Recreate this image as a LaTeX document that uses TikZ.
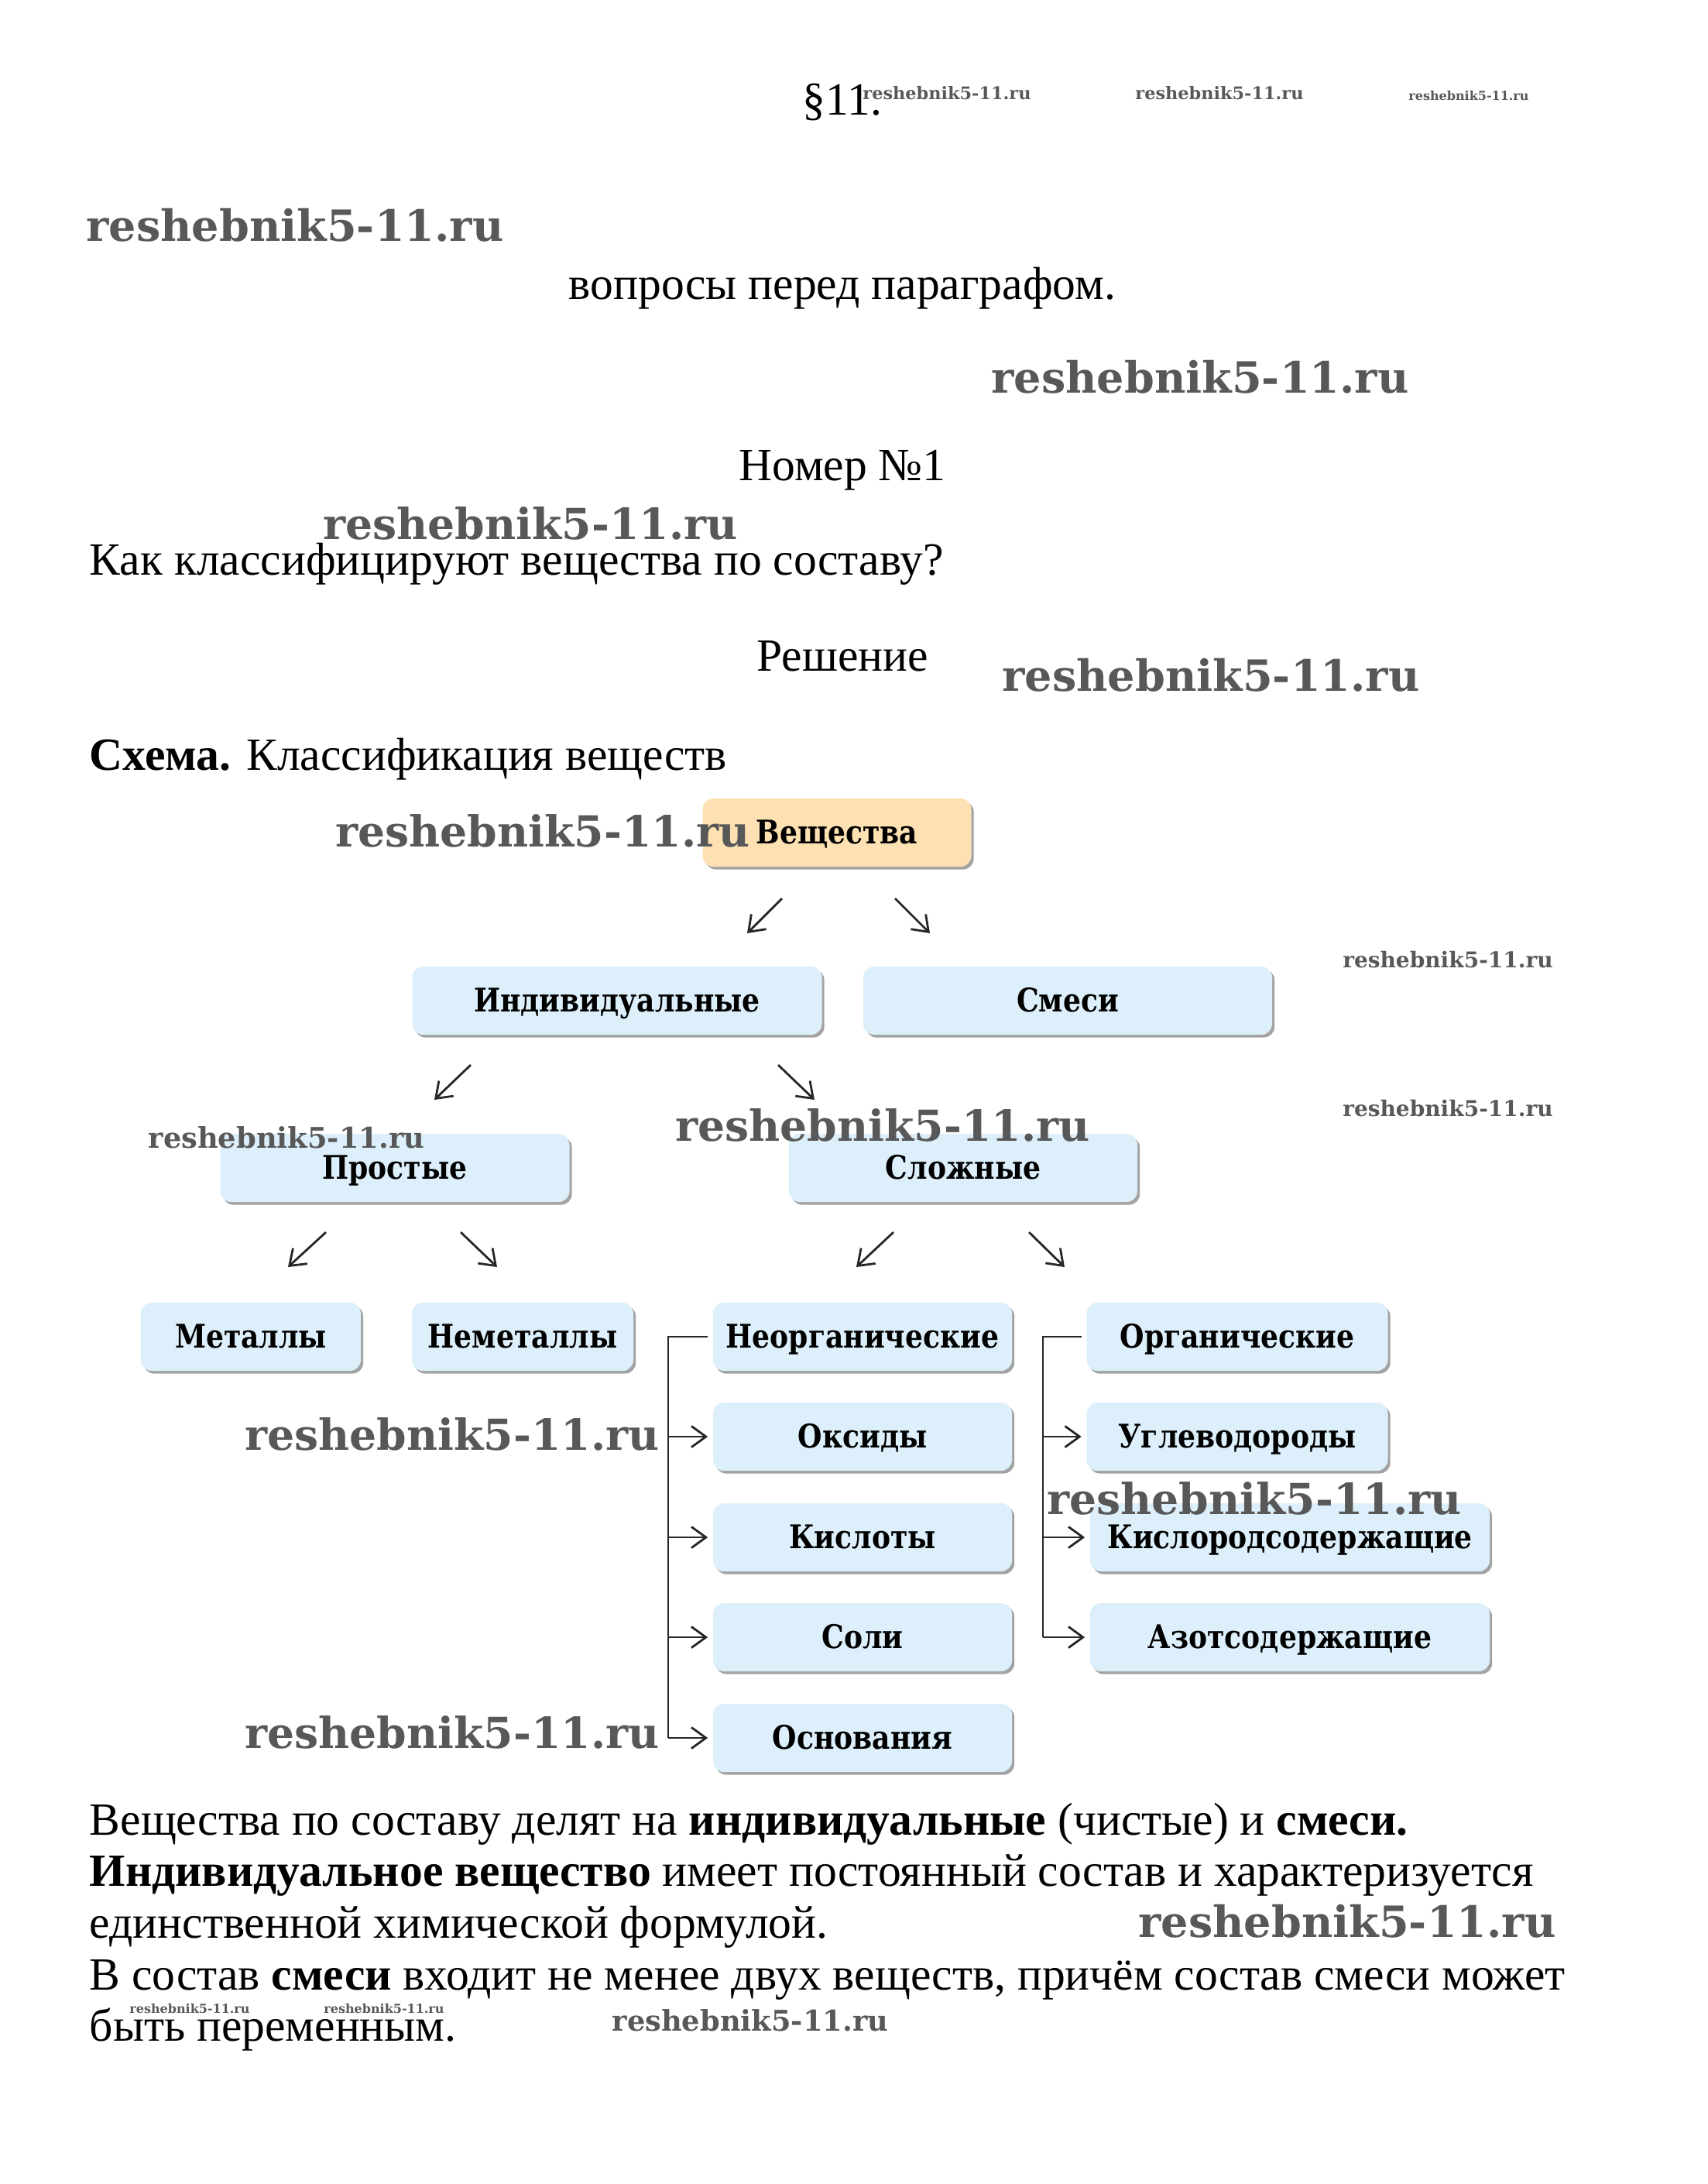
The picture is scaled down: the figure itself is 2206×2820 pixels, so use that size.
\documentclass[tikz,border=0pt]{standalone}
\usepackage{fontspec}
\setmainfont{Liberation Serif}
\newfontfamily\boxfont[FakeStretch=0.86]{DejaVu Serif}
\newfontfamily\wmfont{DejaVu Serif}
\usetikzlibrary{arrows.meta,shadows}
\definecolor{boxblue}{RGB}{221,239,250}
\definecolor{boxorange}{RGB}{253,225,178}
\definecolor{wmgray}{RGB}{88,88,88}
\begin{document}
\begin{tikzpicture}[x=0.25pt,y=-0.25pt,
  body/.style={font=\fontsize{14.9}{17}\selectfont, inner sep=0pt},
  box/.style={rounded corners=3.5pt, fill=boxblue, minimum height=22pt, inner sep=0pt,
    text height=9pt, text depth=1.6pt,
    font=\boxfont\bfseries\fontsize{10.5}{12}\selectfont,
    drop shadow={shadow xshift=0.8pt, shadow yshift=-0.9pt, fill=black!60, opacity=0.6}},
  wm/.style={font=\wmfont\bfseries\fontsize{#1}{#1}\selectfont, text=wmgray, inner sep=0pt},
  conn/.style={line width=0.7pt, black!85},
  arr/.style={conn, -{Straight Barb[length=4.7pt,width=6.8pt]}},
]
\fill[white] (0,0) rectangle (2206,2820);
\useasboundingbox (0,0) rectangle (2206,2820);

% --- heading texts ---
\node[body, anchor=base] (par) at (1088,148) {§11.};
\node[body, anchor=base] (q) at (1088,386) {вопросы перед параграфом.};
\node[body, anchor=base] (nom) at (1088,620) {Номер №1};
\node[body, anchor=base west] (ask) at (115,742) {Как классифицируют вещества по составу?};
\node[body, anchor=base] (resh) at (1088,866) {Решение};
\node[body, anchor=base west] (sch) at (115,994) {\textbf{Схема.} Классификация веществ};

% --- boxes ---
\node[box, fill=boxorange, minimum width=86.75pt] (vesh) at (1081,1075) {Вещества};
\node[box, minimum width=132.25pt] (indiv) at (797,1292) {Индивидуальные};
\node[box, minimum width=132pt] (smesi) at (1379,1292) {Смеси};
\node[box, minimum width=112.75pt] (prost) at (510,1508) {Простые};
\node[box, minimum width=112.5pt] (slozh) at (1244,1508) {Сложные};
\node[box, minimum width=71pt] (met) at (324,1726) {Металлы};
\node[box, minimum width=71.5pt] (nemet) at (675,1726) {Неметаллы};
\node[box, minimum width=96.5pt] (neorg) at (1114,1726) {Неорганические};
\node[box, minimum width=97.25pt] (org) at (1598,1726) {Органические};
\node[box, minimum width=96.5pt] (oks) at (1114,1855) {Оксиды};
\node[box, minimum width=97.25pt] (ugl) at (1598,1855) {Углеводороды};
\node[box, minimum width=96.5pt] (kisl) at (1114,1985) {Кислоты};
\node[box, minimum width=129pt] (kislor) at (1666,1985) {Кислородсодержащие};
\node[box, minimum width=96.5pt] (soli) at (1114,2114) {Соли};
\node[box, minimum width=129pt] (azot) at (1666,2114) {Азотсодержащие};
\node[box, minimum width=96.5pt] (osn) at (1114,2244) {Основания};

% --- diagonal arrows ---
\coordinate (a1s) at (1010,1160); \coordinate (a1e) at (965,1205);
\coordinate (a2s) at (1156,1160); \coordinate (a2e) at (1201,1205);
\coordinate (b1s) at (608,1375);  \coordinate (b1e) at (561,1420);
\coordinate (b2s) at (1005,1375); \coordinate (b2e) at (1052,1420);
\coordinate (c1s) at (421,1591);  \coordinate (c1e) at (372,1636);
\coordinate (c2s) at (595,1591);  \coordinate (c2e) at (642,1636);
\coordinate (d1s) at (1154,1591); \coordinate (d1e) at (1106,1636);
\coordinate (d2s) at (1329,1591); \coordinate (d2e) at (1375,1636);
\foreach \p in {a1,a2,b1,b2,c1,c2,d1,d2} \draw[arr] (\p s) -- (\p e);

% --- brackets ---
\coordinate (Lx) at (863,0);
\coordinate (Rx) at (1347,0);
\draw[conn] ([xshift=-1.5pt]neorg.west) -- (neorg.west -| Lx) -- (osn.west -| Lx);
\foreach \n in {oks,kisl,soli,osn} \draw[arr, shorten >=1.5pt] (\n.west -| Lx) -- (\n.west);
\draw[conn] ([xshift=-1.5pt]org.west) -- (org.west -| Rx) -- (azot.west -| Rx);
\foreach \n in {ugl,kislor,azot} \draw[arr, shorten >=1.5pt] (\n.west -| Rx) -- (\n.west);

% --- paragraph ---
\node[body, anchor=base west] (l1) at (115,2369) {Вещества по составу делят на \textbf{индивидуальные} (чистые) и \textbf{смеси.}};
\node[body, anchor=base west] (l2) at (115,2435) {\textbf{Индивидуальное вещество} имеет постоянный состав и характеризуется};
\node[body, anchor=base west] (l3) at (115,2502) {единственной химической формулой.};
\node[body, anchor=base west] (l4) at (115,2569) {В состав \textbf{смеси} входит не менее двух веществ, причём состав смеси может};
\node[body, anchor=base west] (l5) at (115,2635) {быть переменным.};

% --- watermarks ---
\node[wm=5.6] (w1) at (1223,120) {reshebnik5-11.ru};
\node[wm=5.6] (w2) at (1575,120) {reshebnik5-11.ru};
\node[wm=4.0] (w3) at (1897,124) {reshebnik5-11.ru};
\node[wm=13.9] (w4) at (381,291) {reshebnik5-11.ru};
\node[wm=13.9] (w5) at (1550,487) {reshebnik5-11.ru};
\node[wm=13.8] (w6) at (685,676) {reshebnik5-11.ru};
\node[wm=13.9] (w7) at (1564,872) {reshebnik5-11.ru};
\node[wm=13.8] (w8) at (701,1073) {reshebnik5-11.ru};
\node[wm=7.0] (w9) at (1870,1239) {reshebnik5-11.ru};
\node[wm=7.0] (w10) at (1870,1431) {reshebnik5-11.ru};
\node[wm=9.2] (w11) at (370,1469) {reshebnik5-11.ru};
\node[wm=13.8] (w12) at (1140,1453) {reshebnik5-11.ru};
\node[wm=13.8] (w13) at (584,1852) {reshebnik5-11.ru};
\node[wm=13.8] (w14) at (1620,1935) {reshebnik5-11.ru};
\node[wm=13.8] (w15) at (584,2237) {reshebnik5-11.ru};
\node[wm=13.9] (w16) at (1740,2481) {reshebnik5-11.ru};
\node[wm=4.0] (w17) at (245,2594) {reshebnik5-11.ru};
\node[wm=4.0] (w18) at (496,2594) {reshebnik5-11.ru};
\node[wm=9.2] (w19) at (969,2609) {reshebnik5-11.ru};
\end{tikzpicture}
\end{document}
